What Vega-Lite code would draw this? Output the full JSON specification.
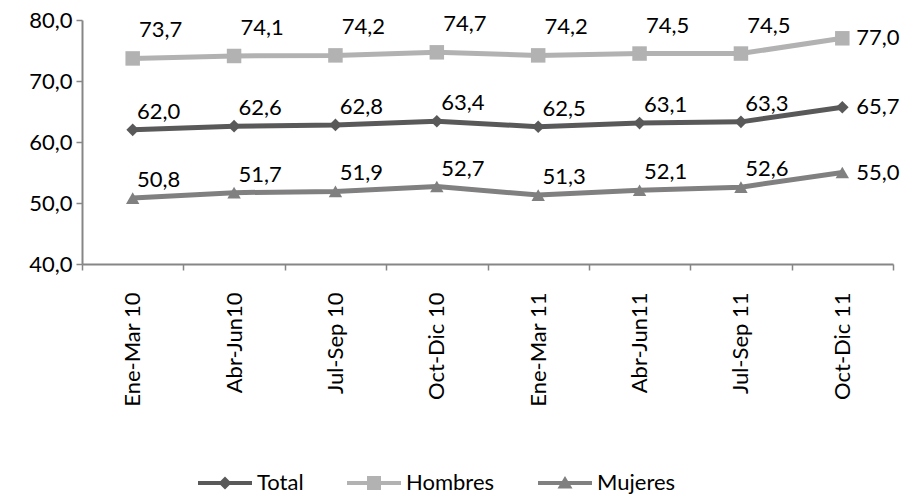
{
  "$schema": "https://vega.github.io/schema/vega-lite/v6.json",
  "width": 811,
  "height": 244,
  "autosize": {"type": "none"},
  "padding": {"left": 82, "top": 20, "right": 22, "bottom": 235},
  "data": {
    "values": [
      {"periodo": "Ene-Mar 10", "serie": "Total", "valor": 62.0},
      {"periodo": "Abr-Jun10", "serie": "Total", "valor": 62.6},
      {"periodo": "Jul-Sep 10", "serie": "Total", "valor": 62.8},
      {"periodo": "Oct-Dic 10", "serie": "Total", "valor": 63.4},
      {"periodo": "Ene-Mar 11", "serie": "Total", "valor": 62.5},
      {"periodo": "Abr-Jun11", "serie": "Total", "valor": 63.1},
      {"periodo": "Jul-Sep 11", "serie": "Total", "valor": 63.3},
      {"periodo": "Oct-Dic 11", "serie": "Total", "valor": 65.7},
      {"periodo": "Ene-Mar 10", "serie": "Hombres", "valor": 73.7},
      {"periodo": "Abr-Jun10", "serie": "Hombres", "valor": 74.1},
      {"periodo": "Jul-Sep 10", "serie": "Hombres", "valor": 74.2},
      {"periodo": "Oct-Dic 10", "serie": "Hombres", "valor": 74.7},
      {"periodo": "Ene-Mar 11", "serie": "Hombres", "valor": 74.2},
      {"periodo": "Abr-Jun11", "serie": "Hombres", "valor": 74.5},
      {"periodo": "Jul-Sep 11", "serie": "Hombres", "valor": 74.5},
      {"periodo": "Oct-Dic 11", "serie": "Hombres", "valor": 77.0},
      {"periodo": "Ene-Mar 10", "serie": "Mujeres", "valor": 50.8},
      {"periodo": "Abr-Jun10", "serie": "Mujeres", "valor": 51.7},
      {"periodo": "Jul-Sep 10", "serie": "Mujeres", "valor": 51.9},
      {"periodo": "Oct-Dic 10", "serie": "Mujeres", "valor": 52.7},
      {"periodo": "Ene-Mar 11", "serie": "Mujeres", "valor": 51.3},
      {"periodo": "Abr-Jun11", "serie": "Mujeres", "valor": 52.1},
      {"periodo": "Jul-Sep 11", "serie": "Mujeres", "valor": 52.6},
      {"periodo": "Oct-Dic 11", "serie": "Mujeres", "valor": 55.0}
    ]
  },
  "encoding": {
    "x": {
      "field": "periodo",
      "type": "nominal",
      "sort": null,
      "bandPosition": 0.5,
      "title": null,
      "scale": {"type": "band", "paddingInner": 0, "paddingOuter": 0},
      "axis": {
        "labelAngle": -90,
        "labelAlign": "right",
        "labelBaseline": "middle",
        "labelPadding": 22,
        "tickBand": "extent",
        "tickSize": 6,
        "domainColor": "#868686",
        "domainWidth": 2,
        "tickColor": "#868686",
        "tickWidth": 1.5,
        "grid": false
      }
    },
    "y": {
      "field": "valor",
      "type": "quantitative",
      "title": null,
      "scale": {"domain": [40, 80], "nice": false, "zero": false},
      "axis": {
        "values": [40, 50, 60, 70, 80],
        "format": ".1f",
        "tickSize": 6,
        "labelPadding": 4,
        "domainColor": "#868686",
        "domainWidth": 2,
        "tickColor": "#868686",
        "tickWidth": 1.5,
        "grid": false
      }
    },
    "color": {
      "field": "serie",
      "type": "nominal",
      "scale": {"domain": ["Total", "Hombres", "Mujeres"], "range": ["#595959", "#b2b2b2", "#808080"]},
      "legend": {
        "orient": "none",
        "direction": "horizontal",
        "legendX": 132,
        "legendY": 452,
        "title": null,
        "symbolSize": 400,
        "symbolStrokeWidth": 0,
        "labelOffset": 21,
        "columnPadding": 43,
        "labelFont": "Lato",
        "labelFontSize": 22,
        "labelColor": "#000000",
        "encode": {
          "symbols": {
            "update": {
              "shape": {"signal": "datum.value === 'Total' ? 'M-2.7,-0.2L2.7,-0.2L2.7,0.2L-2.7,0.2Z M0,-0.65L0.65,0L0,0.65L-0.65,0Z' : datum.value === 'Hombres' ? 'M-2.7,-0.2L2.7,-0.2L2.7,0.2L-2.7,0.2Z M-0.7,-0.7L0.7,-0.7L0.7,0.7L-0.7,0.7Z' : 'M-2.7,-0.2L2.7,-0.2L2.7,0.2L-2.7,0.2Z M0,-0.7L0.75,0.55L-0.75,0.55Z'"},
              "fill": {"scale": "color", "field": "value"},
              "fillOpacity": {"value": 1},
              "strokeWidth": {"value": 0}
            }
          }
        }
      }
    }
  },
  "layer": [
    {
      "mark": {"type": "line", "strokeWidth": 5},
      "encoding": {}
    },
    {
      "transform": [{"filter": "datum.serie === 'Total'"}],
      "mark": {"type": "point", "filled": true, "opacity": 1, "size": 160, "shape": "diamond"},
      "encoding": {}
    },
    {
      "transform": [{"filter": "datum.serie === 'Hombres'"}],
      "mark": {"type": "point", "filled": true, "opacity": 1, "size": 210, "shape": "square"},
      "encoding": {}
    },
    {
      "transform": [{"filter": "datum.serie === 'Mujeres'"}],
      "mark": {"type": "point", "filled": true, "opacity": 1, "size": 180, "shape": "triangle-up"},
      "encoding": {}
    },
    {
      "transform": [{"filter": "datum.periodo !== 'Oct-Dic 11' && datum.serie === 'Hombres'"}],
      "mark": {"type": "text", "font": "Lato", "fontSize": 22, "color": "#000000", "dx": 28, "dy": -28, "baseline": "middle"},
      "encoding": {
        "color": {"value": "#000000"},
        "text": {"field": "valor", "type": "quantitative", "format": ".1f"}
      }
    },
    {
      "transform": [{"filter": "datum.periodo !== 'Oct-Dic 11' && datum.serie !== 'Hombres'"}],
      "mark": {"type": "text", "font": "Lato", "fontSize": 22, "color": "#000000", "dx": 26, "dy": -18, "baseline": "middle"},
      "encoding": {
        "color": {"value": "#000000"},
        "text": {"field": "valor", "type": "quantitative", "format": ".1f"}
      }
    },
    {
      "transform": [{"filter": "datum.periodo === 'Oct-Dic 11'"}],
      "mark": {"type": "text", "font": "Lato", "fontSize": 22, "color": "#000000", "dx": 14, "align": "left", "baseline": "middle"},
      "encoding": {
        "color": {"value": "#000000"},
        "text": {"field": "valor", "type": "quantitative", "format": ".1f"}
      }
    }
  ],
  "config": {
    "view": {"stroke": null},
    "locale": {
      "number": {"decimal": ",", "thousands": ".", "grouping": [3], "currency": ["", " €"]}
    },
    "axis": {
      "labelFont": "Lato",
      "labelFontSize": 22,
      "labelColor": "#000000"
    }
  }
}
